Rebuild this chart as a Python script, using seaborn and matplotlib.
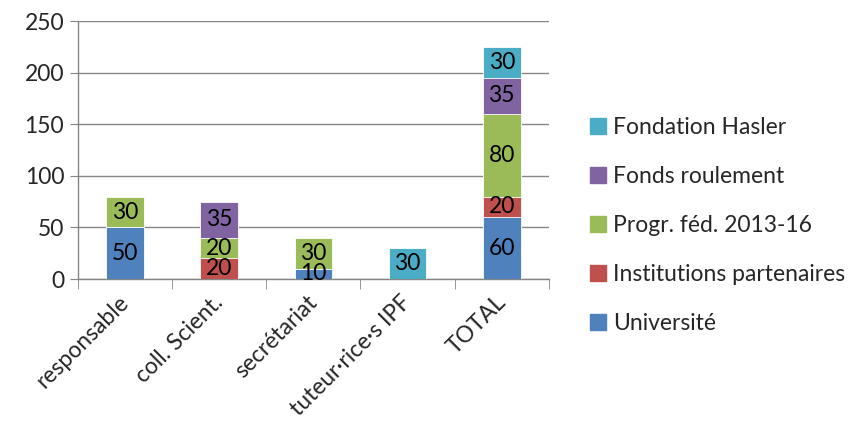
import matplotlib
matplotlib.use("Agg")
import matplotlib.pyplot as plt
import matplotlib.patches as mpatches
import matplotlib.transforms as mtransforms
import seaborn as sns
import numpy as np
import pandas as pd

categories = ["responsable", "coll. Scient.", "secrétariat", "tuteur·rice·s IPF", "TOTAL"]
series_names = ["Université", "Institutions partenaires", "Progr. féd. 2013-16",
                "Fonds roulement", "Fondation Hasler"]
universite = [50, 0, 10, 0, 60]
institutions = [0, 20, 0, 0, 20]
progr_fed = [30, 20, 30, 0, 80]
fonds_roulement = [0, 35, 0, 0, 35]
fondation_hasler = [0, 0, 0, 30, 30]
y_ticks = [0, 50, 100, 150, 200, 250]

colors = ["#4F81BD", "#C0504D", "#9BBB59", "#8064A2", "#4BACC6"]
series = [universite, institutions, progr_fed, fonds_roulement, fondation_hasler]

sns.set_style("white")
plt.rcParams["font.family"] = ["Lato", "DejaVu Sans"]
FS = 16.5
LFS = 16.5

fig = plt.figure(figsize=(8.67, 4.32), dpi=100)
ax = fig.add_axes([0.09, 0.354, 0.543, 0.597])

vals = np.array(series, dtype=float)
cum = np.cumsum(vals, axis=0)

# draw from top (cumulative) down so lower segments overlay
for i in range(len(series) - 1, -1, -1):
    df = pd.DataFrame({"cat": categories, "val": cum[i]})
    sns.barplot(data=df, x="cat", y="val", color=colors[i], width=0.4,
                saturation=1, ax=ax, edgecolor="white", linewidth=0.6, zorder=3)

# value labels
for i in range(len(series)):
    for j in range(len(categories)):
        v = vals[i, j]
        if v > 0:
            ax.text(j, cum[i, j] - v / 2, f"{int(v)}", ha="center", va="center",
                    fontsize=FS, color="black", zorder=5)

ax.set_ylim(0, 250)
ax.set_xlim(-0.5, len(categories) - 0.5)
ax.set_yticks(y_ticks)
ax.yaxis.grid(True, color="#868686", linewidth=1.0, zorder=0)
ax.set_axisbelow(True)
ax.set_xlabel("")
ax.set_ylabel("")

for s in ["top", "right"]:
    ax.spines[s].set_visible(False)
for s in ["left", "bottom"]:
    ax.spines[s].set_color("#868686")
    ax.spines[s].set_linewidth(1.0)

ax.tick_params(axis="y", length=6, color="#868686", labelsize=FS, pad=4, left=True)
ax.set_xticks(range(len(categories)))
ax.set_xticklabels(categories, rotation=45, ha="right", rotation_mode="anchor", fontsize=FS)
ax.tick_params(axis="x", length=0, pad=9)
offset = mtransforms.ScaledTranslation(-7 / 100, 0, fig.dpi_scale_trans)
for lab in ax.get_xticklabels():
    lab.set_transform(lab.get_transform() + offset)
ax.set_xticks(np.arange(-0.5, len(categories)), minor=True)
ax.tick_params(axis="x", which="minor", length=7, color="#868686", bottom=True, direction="out")

handles = [mpatches.Patch(color=colors[i]) for i in range(len(series) - 1, -1, -1)]
labels = [series_names[i] for i in range(len(series) - 1, -1, -1)]
fig.legend(handles, labels, loc="center left", bbox_to_anchor=(0.670, 0.478),
           frameon=False, fontsize=LFS, handlelength=0.7, handleheight=0.7,
           handletextpad=0.3, labelspacing=1.22, borderaxespad=0)

fig.savefig("out.png", dpi=100)
